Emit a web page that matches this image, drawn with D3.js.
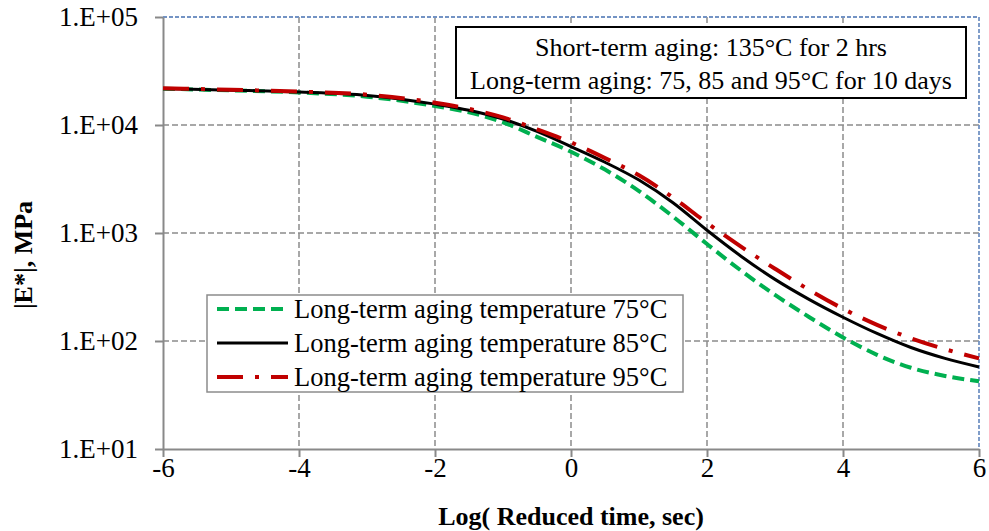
<!DOCTYPE html>
<html>
<head>
<meta charset="utf-8">
<script src="https://cdn.jsdelivr.net/npm/d3@7"></script>
<style>
  html, body { margin: 0; padding: 0; background: #fff; }
  svg { display: block; }
  text { font-family: "Liberation Serif", "Times New Roman", serif; fill: #000; }
</style>
</head>
<body>
<svg id="chart" width="989" height="531"></svg>
<script>
// ---- data ----
const logTime = [-6, -5, -4, -3, -2, -1.5, -1, -0.5, 0, 0.5, 1, 1.5, 2, 2.5, 3, 3.5, 4, 4.5, 5, 5.5, 6];
const e75 = [21700, 20900, 20000, 18300, 15000, 13100, 10600, 7760, 5650, 3865, 2440, 1420, 790, 449, 267, 167, 108, 74.5, 56.5, 47.5, 42.4];
const e85 = [21700, 21000, 20200, 18800, 15600, 13700, 11350, 8710, 6310, 4520, 3090, 1905, 1060, 610, 372, 243, 166, 117.5, 87, 69, 57.5];
const e95 = [21900, 21200, 20400, 19100, 16100, 14100, 11750, 9120, 6900, 4940, 3420, 2130, 1240, 748, 467, 298, 199, 141, 106, 84, 69];
const seriesNames = ["Long-term aging temperature 75°C", "Long-term aging temperature 85°C", "Long-term aging temperature 95°C"];
const xTicks = [-6, -4, -2, 0, 2, 4, 6];
const yTicks = [10, 100, 1000, 10000, 100000];
const yTickLabels = ["1.E+01", "1.E+02", "1.E+03", "1.E+04", "1.E+05"];
const noteLines = ["Short-term aging: 135°C for 2 hrs", "Long-term aging: 75, 85 and 95°C for 10 days"];
const xTitle = "Log( Reduced time, sec)";
const yTitle = "|E*|, MPa";

// ---- layout ----
const L = 163, R = 979, T = 17, B = 449;
const svg = d3.select("#chart");
const x = d3.scaleLinear().domain([-6, 6]).range([L, R]);
const y = d3.scaleLog().domain([10, 100000]).range([B, T]);

const styles = [
  { color: "#00B050", width: 4, dash: "12,6" },
  { color: "#000000", width: 3, dash: null },
  { color: "#C00000", width: 4, dash: "26,12,4,12" }
];
const allSeries = [e75, e85, e95];

// gridlines
const grid = svg.append("g");
grid.selectAll("line.v").data(xTicks.filter(d => d > -6 && d < 6)).join("line")
  .attr("x1", d => x(d)).attr("x2", d => x(d)).attr("y1", T).attr("y2", B)
  .attr("stroke", "#8c8c8c").attr("stroke-width", 1.5).attr("stroke-dasharray", "6,3");
grid.selectAll("line.h").data(yTicks.filter(d => d > 10 && d < 100000)).join("line")
  .attr("x1", L).attr("x2", R).attr("y1", d => y(d)).attr("y2", d => y(d))
  .attr("stroke", "#8c8c8c").attr("stroke-width", 1.5).attr("stroke-dasharray", "6,3");

// plot border (top/right blue dashed)
svg.append("path")
  .attr("d", `M${L},${T}H${R}V${B}`)
  .attr("fill", "none").attr("stroke", "#7393c4").attr("stroke-width", 1.8).attr("stroke-dasharray", "4,2");

// axes
const yAxis = d3.axisLeft(y).tickValues(yTicks).tickSize(8).tickSizeOuter(0).tickPadding(17)
  .tickFormat(d => yTickLabels[yTicks.indexOf(d)]);
const gy = svg.append("g").attr("transform", `translate(${L},0)`).call(yAxis);
const xAxis = d3.axisBottom(x).tickValues(xTicks).tickSize(8).tickSizeOuter(0).tickPadding(1)
  .tickFormat(d => String(d));
const gx = svg.append("g").attr("transform", `translate(0,${B})`).call(xAxis);
[gx, gy].forEach(g => {
  g.select(".domain").attr("stroke", "#898989").attr("stroke-width", 2);
  g.selectAll(".tick line").attr("stroke", "#898989").attr("stroke-width", 2);
  g.selectAll(".tick text").attr("font-family", "'Liberation Serif', 'Times New Roman', serif").attr("font-size", 27).attr("fill", "#000");
});

// curves
const line = d3.line().x((d, i) => x(logTime[i])).y(d => y(d)).curve(d3.curveMonotoneX);
allSeries.forEach((s, k) => {
  svg.append("path").datum(s).attr("d", line)
    .attr("fill", "none").attr("stroke", styles[k].color).attr("stroke-width", styles[k].width)
    .attr("stroke-dasharray", styles[k].dash);
});

// legend
const lg = svg.append("g");
lg.append("rect").attr("x", 207).attr("y", 295).attr("width", 476).attr("height", 97)
  .attr("fill", "#fff").attr("stroke", "#8c8c8c").attr("stroke-width", 1.5);
const rowY = [309, 343, 377];
seriesNames.forEach((n, k) => {
  lg.append("line").attr("x1", 217).attr("x2", 288).attr("y1", rowY[k]).attr("y2", rowY[k])
    .attr("stroke", styles[k].color).attr("stroke-width", styles[k].width)
    .attr("stroke-dasharray", styles[k].dash);
  lg.append("text").attr("x", 294).attr("y", rowY[k]).attr("dy", "0.33em")
    .attr("font-size", 26.5).text(n);
});

// annotation box
const ng = svg.append("g");
ng.append("rect").attr("x", 456).attr("y", 27).attr("width", 510).attr("height", 71)
  .attr("fill", "#fff").attr("stroke", "#000").attr("stroke-width", 2);
noteLines.forEach((t, i) => {
  ng.append("text").attr("x", 711).attr("y", 47 + i * 33).attr("dy", "0.33em")
    .attr("text-anchor", "middle").attr("font-size", 26).text(t);
});

// titles
svg.append("text").attr("x", (L + R) / 2).attr("y", 525).attr("text-anchor", "middle")
  .attr("font-size", 26).attr("font-weight", "bold").text(xTitle);
svg.append("text").attr("transform", "translate(23,255) rotate(-90)").attr("dy", "0.33em")
  .attr("text-anchor", "middle").attr("font-size", 26).attr("font-weight", "bold").text(yTitle);
</script>
</body>
</html>
